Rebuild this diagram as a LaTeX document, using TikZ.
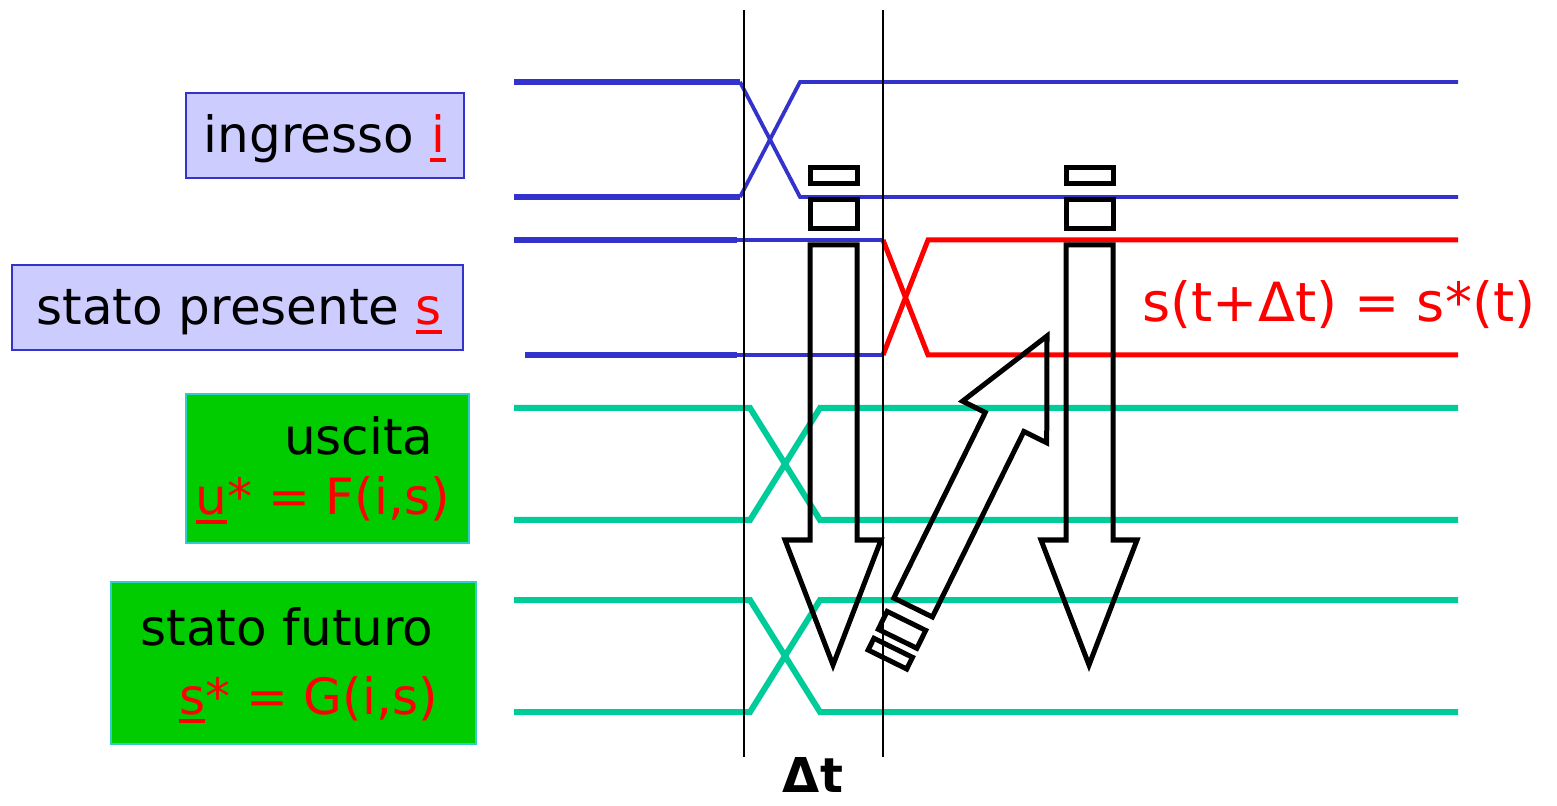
\documentclass[tikz,border=0pt]{standalone}
\usepackage{fontspec}
\setmainfont{DejaVu Sans}
\definecolor{sigblue}{HTML}{3333CC}
\definecolor{boxblue}{HTML}{CCCCFF}
\definecolor{boxgreen}{HTML}{00CC00}
\definecolor{boxcyan}{HTML}{33CCCC}
\definecolor{siggreen}{HTML}{00CC99}
\definecolor{sigred}{HTML}{FF0000}
\newcommand\rd[1]{\textcolor{sigred}{#1}}
\newcommand\ul[1]{\textcolor{sigred}{\setbox0\hbox{#1}\ifdim\wd0<8pt\setbox0\hbox to 8pt{\hss#1\hss}\fi\rlap{\rule[-4.5pt]{\wd0}{2pt}}\box0}}
\begin{document}
\begin{tikzpicture}[x=0.5pt,y=-0.5pt,
  bluebox/.style={draw=sigblue, fill=boxblue, line width=0.8pt},
  greenbox/.style={draw=boxcyan, fill=boxgreen, line width=0.8pt},
  lbl/.style={inner sep=0pt, font=\fontsize{25}{30}\selectfont},
  bthick/.style={draw=sigblue, line width=2.7pt},
  bthin/.style={draw=sigblue, line width=1.9pt},
  gsig/.style={draw=siggreen, line width=3pt},
  rsig/.style={draw=sigred, line width=2.5pt},
  blk/.style={draw=black, line width=2.5pt, line join=miter},
  tline/.style={draw=black, line width=0.75pt}]
\useasboundingbox (0,0) rectangle (1557,806);

% label boxes
\path[bluebox] (186,93) rectangle (464,178);
\path[bluebox] (12,265) rectangle (463,350);
\path[greenbox] (186,394) rectangle (469,543);
\path[greenbox] (111,582) rectangle (476,744);

\node[lbl, anchor=base] (tin) at (325,153) {ingresso \ul{i}};
\node[lbl, anchor=base] (tst) at (239,325) {stato presente \ul{s}};
\node[lbl, anchor=base east] (tus) at (434,455) {uscita};
\node[lbl, anchor=base east] (tuf) at (450,515) {\ul{u}\rd{* = F(i,s)}};
\node[lbl, anchor=base] (tsf) at (287,645) {stato futuro};
\node[lbl, anchor=base east] (tsg) at (438,714) {\ul{s}\rd{* = G(i,s)}};

% input i
\draw[bthick] (514,82) -- (740,82);
\draw[bthick] (514,197) -- (740,197);
\draw[bthin] (740,82) -- (800,197) -- (1458,197);
\draw[bthin] (740,197) -- (800,82) -- (1458,82);

% present state s
\draw[bthick] (514,240) -- (737,240);
\draw[bthin] (737,240) -- (883,240);
\draw[bthick] (525,355) -- (737,355);
\draw[bthin] (737,355) -- (883,355);
\draw[rsig] (883,240) -- (928,355) -- (1458,355);
\draw[rsig] (883,355) -- (928,240) -- (1458,240);

% output u
\draw[gsig] (514,408) -- (750,408) -- (820,520) -- (1458,520);
\draw[gsig] (514,520) -- (750,520) -- (820,408) -- (1458,408);

% future state
\draw[gsig] (514,600) -- (750,600) -- (820,712) -- (1458,712);
\draw[gsig] (514,712) -- (750,712) -- (820,600) -- (1458,600);

% time markers
\draw[tline] (744,10) -- (744,757);
\draw[tline] (883,10) -- (883,757);
\node[inner sep=0pt, anchor=base, font=\fontsize{24}{28}\selectfont\bfseries] (dt) at (813,792) {Δt};

\node[lbl, anchor=base, font=\fontsize{27}{32}\selectfont, text=sigred] (eq) at (1339,322) {s(t+Δt) = s*(t)};

% down arrow 1
\draw[blk] (810,168) rectangle (857,184);
\draw[blk] (810,200) rectangle (857,229);
\draw[blk] (810,245) -- (810,540) -- (785,540) -- (833,665) -- (881,540) -- (857,540) -- (857,245) -- cycle;

% down arrow 2
\draw[blk] (1066,168) rectangle (1113,184);
\draw[blk] (1066,200) rectangle (1113,229);
\draw[blk] (1066,245) -- (1066,540) -- (1041,540) -- (1089,665) -- (1137,540) -- (1113,540) -- (1113,245) -- cycle;

% diagonal arrow
\draw[blk] (1047,336) -- (1046.7,442.8) -- (1023.9,431.5) -- (932.4,617) -- (893.8,598) -- (985.3,412.5) -- (962.5,401.2) -- cycle;
\draw[blk] (887.1,611.4) -- (925.7,630.4) -- (916.9,648.3) -- (878.3,629.3) -- cycle;
\draw[blk] (873.9,638.3) -- (912.5,657.3) -- (906.7,669) -- (868.1,650) -- cycle;
\end{tikzpicture}
\end{document}
